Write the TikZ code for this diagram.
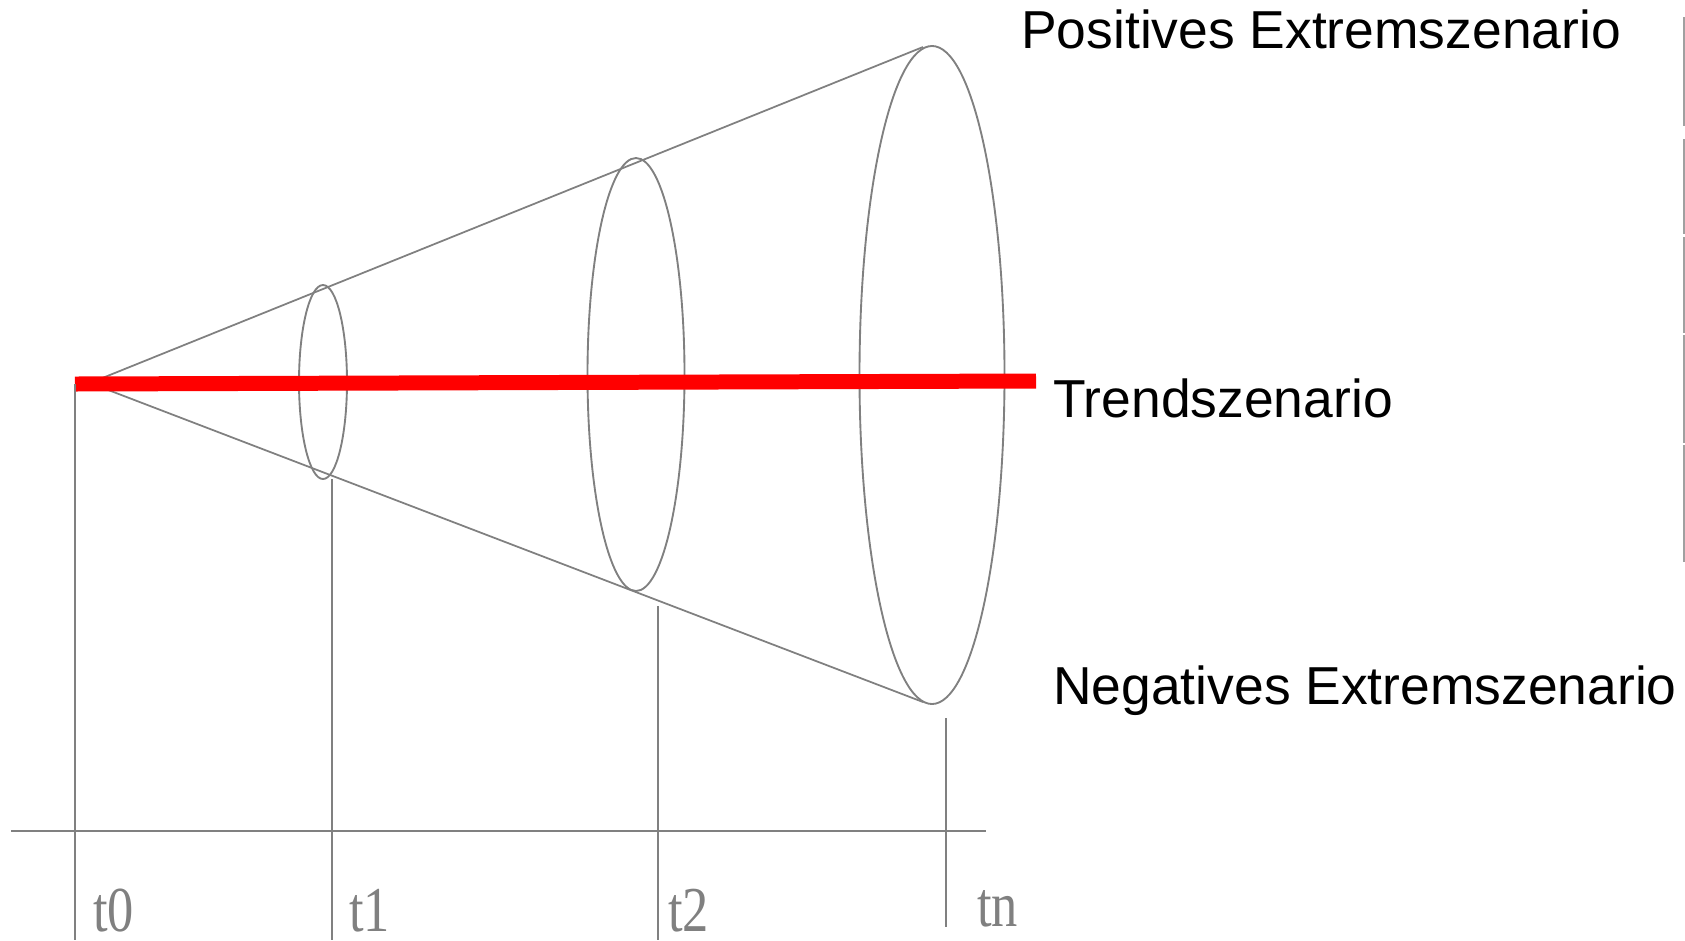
\documentclass[tikz,border=0pt]{standalone}
\usepackage{fontspec}
\setmainfont{Liberation Serif}
\setsansfont{Liberation Sans}
\usepackage{tikz}
\usetikzlibrary{shapes.geometric, positioning, calc}
\definecolor{mygray}{RGB}{128,128,128}
\definecolor{myedge}{RGB}{160,160,160}
\definecolor{myred}{RGB}{255,0,0}
\tikzset{
  ring/.style={ellipse, draw=mygray, line width=1.6pt, inner sep=0pt, outer sep=0pt},
  cone/.style={draw=mygray, line width=1.5pt},
  trend/.style={draw=myred, line width=12.8pt},
  tick/.style={draw=mygray, line width=1.5pt},
  scenlabel/.style={anchor=base west, inner sep=0pt, font=\sffamily\fontsize{45.6}{52}\selectfont},
  timelabel/.style={anchor=base west, inner sep=0pt, text depth=0pt, text=mygray, font=\rmfamily\fontsize{54.6}{60}\selectfont}
}

\begin{document}
\begin{tikzpicture}[x=0.03cm, y=-0.03cm]
  \useasboundingbox (0,0) rectangle (1685,940);

  % cone
  \coordinate (apex) at (90,383);
  \node[ring, minimum width=1.44cm, minimum height=5.82cm] (r1) at (323,382) {};
  \node[ring, minimum width=2.91cm, minimum height=12.99cm] (r2) at (636,374.5) {};
  \node[ring, minimum width=4.35cm, minimum height=19.74cm] (r3) at (932,375) {};
  \draw[cone] (apex) -- ($(r3.north)+(-9,1)$);
  \draw[cone] (apex) -- ($(r3.south)+(-9,-2)$);

  % trend line
  \coordinate (trendA) at (75,384);
  \coordinate (trendB) at (1036,381);
  \draw[trend] (trendA) -- (trendB);

  % time axis
  \coordinate (axisA) at (11,831);
  \coordinate (axisB) at (986,831);
  \draw[tick] (axisA) -- (axisB);
  \coordinate (t0top) at (75,384);
  \coordinate (t0bot) at (75,940);
  \coordinate (t1bot) at (332,940);
  \coordinate (t2top) at (658,606);
  \coordinate (t2bot) at (658,940);
  \coordinate (tntop) at (946,718);
  \coordinate (tnbot) at (946,927);
  \draw[tick] (t0top) -- (t0bot);
  \draw[tick] (r1.south -| t1bot) -- (t1bot);
  \draw[tick] (t2top) -- (t2bot);
  \draw[tick] (tntop) -- (tnbot);

  \node[timelabel] (lt0) at (93,931) {\scalebox{0.82}[1]{t0}};
  \node[timelabel] (lt1) at (349,931) {\scalebox{0.82}[1]{t1}};
  \node[timelabel] (lt2) at (668,931) {\scalebox{0.82}[1]{t2}};
  \node[timelabel] (ltn) at (977,926) {\scalebox{0.82}[1]{tn}};

  % scenario labels
  \node[scenlabel] (pos) at (1021,48) {Positives Extremszenario};
  \node[scenlabel] (trd) at (1053,417) {Trendszenario};
  \node[scenlabel] (neg) at (1053,704) {Negatives Extremszenario};

  % edge of the slide
  \foreach \ya/\yb in {17/126, 139/234, 237/333, 335/443, 445/562}
    \draw[myedge, line width=1.2pt] (1684,\ya) -- (1684,\yb);
\end{tikzpicture}
\end{document}
